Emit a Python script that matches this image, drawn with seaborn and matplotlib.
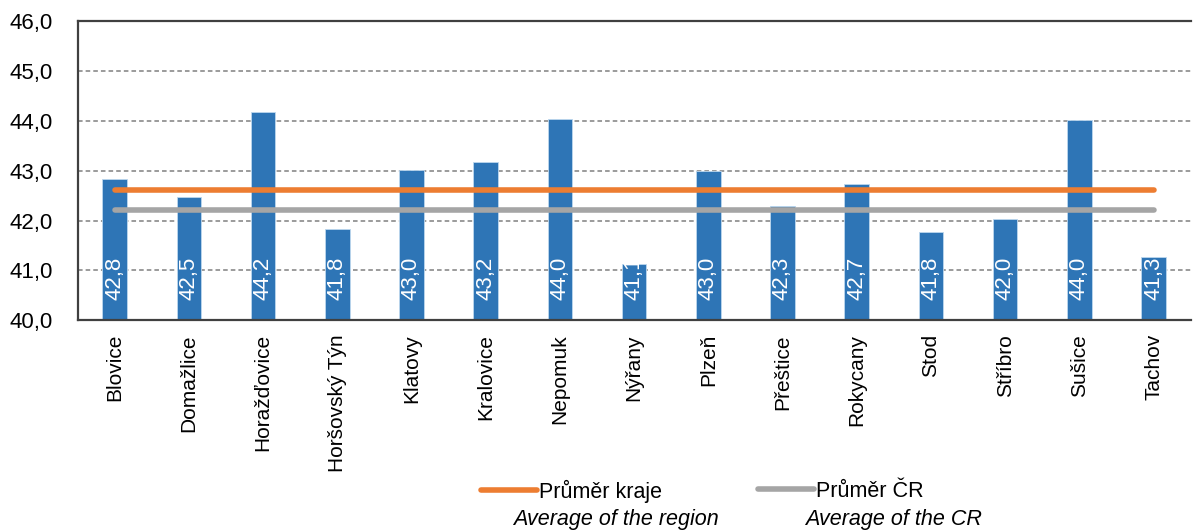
import numpy as np
import pandas as pd
import matplotlib
matplotlib.use("Agg")
import matplotlib.pyplot as plt
from matplotlib.ticker import FixedLocator
import seaborn as sns

# ── Data ──────────────────────────────────────────────────────────────────────
TOWNS = ["Blovice", "Domažlice", "Horažďovice", "Horšovský Týn", "Klatovy",
         "Kralovice", "Nepomuk", "Nýřany", "Plzeň", "Přeštice", "Rokycany",
         "Stod", "Stříbro", "Sušice", "Tachov"]
AGE = [42.83, 42.47, 44.18, 41.84, 43.02, 43.17, 44.04, 41.13, 42.99, 42.29,
       42.74, 41.77, 42.03, 44.02, 41.26]
AVG_REGION = 42.61
AVG_CR = 42.21

LEG_CZ = ["Průměr kraje", "Průměr ČR"]
LEG_EN = ["Average of the region", "Average of the CR"]

# ── Style ─────────────────────────────────────────────────────────────────────
sns.set_style("white")
plt.rcParams["font.family"] = ["Liberation Sans", "DejaVu Sans"]
plt.rcParams["font.size"] = 15
plt.rcParams["text.color"] = "black"
plt.rcParams["xtick.color"] = "black"
plt.rcParams["ytick.color"] = "black"
COLORS = {"bar": "#2E75B6", "region": "#ED7D31", "cr": "#A5A5A5",
          "grid": "#808080", "axis": "#404040"}

df = pd.DataFrame({"town": TOWNS, "age": AGE})
n = len(df)

fig = plt.figure(figsize=(11.93, 5.31), dpi=100)
ax = fig.add_axes([0.065, 0.397, 0.933, 0.563])

sns.barplot(data=df, x="town", y="age", color=COLORS["bar"], width=0.33,
            saturation=1, edgecolor="#BDD7EE", linewidth=0.6, ax=ax, zorder=2)

# value labels inside bars (clipped to the bar)
for bar, val in zip(ax.patches, df["age"]):
    t = ax.text(bar.get_x() + bar.get_width() / 2, 40.4, f"{val:.1f}".replace(".", ","),
                rotation=90, ha="center", va="bottom", color="white", fontsize=16,
                zorder=4)
    t.set_clip_path(bar)

xs = np.arange(n)
l1, = ax.plot(xs, np.full(n, AVG_REGION), color=COLORS["region"], lw=4,
              solid_capstyle="round", zorder=3)
l2, = ax.plot(xs, np.full(n, AVG_CR), color=COLORS["cr"], lw=4,
              solid_capstyle="round", zorder=3)

ax.set_ylim(40, 46)
ax.set_xlim(-0.5, n - 0.5)
ax.set_yticks(np.arange(40, 46.1, 1))
ax.set_yticklabels([f"{v:.1f}".replace(".", ",") for v in np.arange(40, 46.1, 1)],
                   fontsize=16)
ax.yaxis.grid(True, linestyle=(0, (3, 2)), color=COLORS["grid"], lw=1.1, zorder=0)
ax.set_axisbelow(True)

ax.set_xlabel("")
ax.set_ylabel("")
ax.tick_params(axis="x", which="major", length=0, pad=10, labelrotation=90)
ax.xaxis.set_minor_locator(FixedLocator(np.arange(0.5, n - 0.5, 1)))
ax.tick_params(axis="x", which="minor", length=6, width=1.5, color=COLORS["axis"],
               direction="out")
ax.tick_params(axis="y", length=6, width=1.5, color=COLORS["axis"], direction="out",
               pad=12)

for side in ["left", "bottom", "top"]:
    ax.spines[side].set_color(COLORS["axis"])
    ax.spines[side].set_linewidth(1.6)
ax.spines["right"].set_visible(False)

# legend below
fig.legend([l1], [LEG_CZ[0]], loc="center left", bbox_to_anchor=(0.396, 0.075),
           frameon=False, handlelength=2.6, handletextpad=0.1, fontsize=15.5,
           borderaxespad=0)
fig.legend([l2], [LEG_CZ[1]], loc="center left", bbox_to_anchor=(0.628, 0.075),
           frameon=False, handlelength=2.6, handletextpad=0.1, fontsize=15.5,
           borderaxespad=0)
fig.text(0.430, 0.022, LEG_EN[0], style="italic", fontsize=15.5, va="center")
fig.text(0.675, 0.022, LEG_EN[1], style="italic", fontsize=15.5, va="center")

fig.savefig("out.png", dpi=100)
